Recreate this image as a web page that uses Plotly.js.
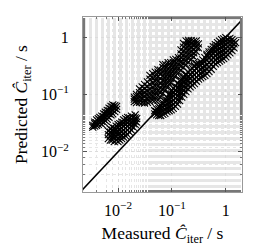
<!DOCTYPE html>
<html><head><meta charset="utf-8">
<script src="https://cdn.plot.ly/plotly-3.0.1.min.js"></script>
<style>html,body{margin:0;padding:0;background:#fff}#c{width:274px;height:247px}</style>
</head><body><div id="c"></div>
<script>
// Each cluster: measured values (columns) and the predicted values read in each column
var clusterA_measured = [0.0034,0.0037,0.0040,0.0043,0.0046,0.0050,0.0054,0.0058,0.0063,0.0068,0.0074,0.0080,0.0087,0.0094];
var clusterA_predicted = [[0.027,0.029],[0.028,0.031,0.033],[0.029,0.032,0.036],[0.030,0.034,0.038],[0.032,0.036,0.040],
 [0.030,0.034,0.038,0.042],[0.033,0.037,0.041,0.046],[0.035,0.040,0.045,0.049],[0.037,0.042,0.048,0.053],[0.040,0.046,0.052,0.058],
 [0.044,0.050,0.056,0.062],[0.046,0.053,0.060,0.066],[0.050,0.057,0.064],[0.055,0.062]];

var clusterB_measured = [0.0066,0.0072,0.0078,0.0085,0.0092,0.0100,0.0108,0.0117,0.0127,0.0138,0.0150,0.0163,0.0177,0.0192,0.0208,0.0222];
var clusterB_predicted = [[0.017,0.020,0.023],[0.016,0.019,0.022,0.025],[0.016,0.018,0.021,0.024,0.027],[0.015,0.018,0.020,0.023,0.026],
 [0.016,0.019,0.022,0.025,0.028],[0.015,0.017,0.020,0.023,0.027,0.030],[0.016,0.018,0.021,0.024,0.028,0.031],[0.017,0.019,0.022,0.026,0.030,0.033],
 [0.018,0.021,0.024,0.028,0.032,0.036],[0.019,0.022,0.026,0.030,0.034,0.038],[0.020,0.024,0.028,0.032,0.036,0.040],[0.022,0.026,0.030,0.034,0.039],
 [0.024,0.028,0.032,0.037,0.042],[0.027,0.031,0.035,0.040],[0.030,0.034,0.039,0.044],[0.033,0.038]];

var upperBand_measured = [0.020,0.022,0.025,0.028,0.031,0.035,0.039,0.044,0.049,0.055,0.061,0.068,0.076,0.085,0.095,0.106,0.118,0.132,0.147,0.164,0.183,0.204,0.228,0.254,0.283,0.310];
var upperBand_predicted = [[0.075,0.083,0.090],[0.072,0.080,0.092,0.100],[0.073,0.082,0.095,0.108,0.125],[0.072,0.085,0.098,0.115,0.135],
 [0.071,0.080,0.094,0.110,0.128,0.150],[0.073,0.085,0.100,0.118,0.140,0.165],[0.075,0.088,0.104,0.124,0.150,0.185,0.215],
 [0.080,0.094,0.112,0.134,0.160,0.195,0.230],[0.080,0.096,0.116,0.140,0.170,0.205,0.245],[0.080,0.096,0.116,0.140,0.170,0.205,0.245,0.270],
 [0.090,0.108,0.130,0.156,0.188,0.225,0.265],[0.104,0.124,0.148,0.176,0.210,0.250,0.295,0.330],[0.120,0.143,0.170,0.203,0.242,0.288,0.330],
 [0.138,0.164,0.195,0.232,0.276,0.325,0.360],[0.160,0.190,0.225,0.266,0.315,0.360],[0.184,0.218,0.258,0.305,0.360,0.400],
 [0.212,0.250,0.295,0.348,0.410],[0.240,0.283,0.333,0.392,0.440],[0.266,0.313,0.368,0.433,0.510,0.600],
 [0.296,0.348,0.410,0.482,0.567,0.667,0.780],[0.330,0.388,0.456,0.536,0.630,0.740,0.860],[0.365,0.430,0.505,0.595,0.700,0.820,0.880],
 [0.407,0.480,0.565,0.665,0.780,0.870],[0.452,0.532,0.625,0.735,0.850],[0.560,0.660,0.770,0.860],[0.650,0.760]];

var lowerBand_measured = [0.048,0.052,0.057,0.062,0.068,0.074,0.081,0.089,0.097,0.106,0.116,0.127,0.139,0.152,0.166,0.182,0.199,0.218,0.238,0.261,
 0.285,0.312,0.341,0.373,0.408,0.446,0.488,0.534,0.584,0.639,0.699,0.764,0.836,0.914,1.000,1.090,1.190,1.300,1.420,1.520];
var lowerBand_predicted = [[0.046,0.052],[0.044,0.050,0.056],[0.043,0.049,0.056,0.062],[0.043,0.050,0.057,0.064],
 [0.045,0.052,0.060,0.071],[0.047,0.055,0.064,0.075,0.082],[0.050,0.058,0.068,0.079,0.090],
 [0.052,0.061,0.071,0.083,0.097,0.102],[0.054,0.063,0.074,0.087,0.102,0.113],[0.057,0.067,0.079,0.093,0.109,0.127],
 [0.062,0.073,0.086,0.101,0.119,0.140],[0.068,0.080,0.094,0.111,0.131,0.158],[0.078,0.092,0.108,0.127,0.150,0.172],
 [0.090,0.106,0.125,0.147,0.173,0.190],[0.100,0.118,0.139,0.164,0.193,0.207],[0.112,0.132,0.155,0.182,0.214,0.226],
 [0.125,0.148,0.175,0.207,0.245],[0.135,0.160,0.190,0.225,0.268],[0.145,0.172,0.204,0.242,0.288],
 [0.155,0.184,0.218,0.258,0.306,0.320],[0.170,0.201,0.238,0.282,0.330,0.345],[0.185,0.218,0.258,0.305,0.345],
 [0.195,0.232,0.275,0.325,0.370],[0.205,0.245,0.292,0.348,0.400],[0.215,0.258,0.310,0.372,0.440],
 [0.230,0.276,0.331,0.397,0.470,0.500],[0.250,0.300,0.360,0.430,0.510,0.550],[0.275,0.330,0.395,0.470,0.550,0.610],
 [0.310,0.370,0.440,0.520,0.610,0.680],[0.340,0.403,0.478,0.567,0.672,0.740],[0.360,0.426,0.505,0.598,0.708,0.800],
 [0.380,0.450,0.533,0.630,0.745,0.850],[0.400,0.474,0.561,0.663,0.783,0.900],[0.420,0.497,0.588,0.695,0.820,0.930],
 [0.450,0.530,0.625,0.735,0.860,0.980],[0.490,0.575,0.675,0.790,0.910],[0.530,0.620,0.725,0.840,0.950],[0.580,0.680,0.790,0.900],
 [0.650,0.760,0.860],[0.800]];

var diag = [0.001, 10];
var tickVals = [0.01, 0.1, 1];
var tickText = ['10<sup>−2</sup>', '10<sup>−1</sup>', '1'];

var measured = [], predicted = [];
[[clusterA_measured, clusterA_predicted], [clusterB_measured, clusterB_predicted],
 [upperBand_measured, upperBand_predicted], [lowerBand_measured, lowerBand_predicted]].forEach(function (c) {
  c[0].forEach(function (m, i) { c[1][i].forEach(function (p) { measured.push(m); predicted.push(p); }); });
});

var fam = 'Liberation Serif, DejaVu Serif, serif';
function ax(range, title, so, tso) {
  return {
    type: 'log', range: range, tickvals: tickVals, ticktext: tickText,
    ticks: 'inside', ticklen: 4, tickcolor: '#555', tickwidth: 1, ticklabelstandoff: tso,
    showline: true, linecolor: '#999', linewidth: 1, mirror: 'ticks',
    showgrid: true, gridcolor: '#dcdcdc', griddash: 'dot', gridwidth: 1,
    minor: {ticks: 'inside', ticklen: 2, tickcolor: '#777', showgrid: true, gridcolor: '#e6e6e6', griddash: 'dot', gridwidth: 1},
    zeroline: false, tickfont: {family: fam, size: 16, color: '#000'},
    title: {text: title, font: {family: fam, size: 17.5, color: '#000'}, standoff: so},
    fixedrange: true
  };
}
var data = [
  {x: measured, y: predicted, type: 'scatter', mode: 'markers',
   marker: {symbol: 'x-thin-open', size: 7, color: '#000', line: {width: 1.1, color: '#000'}}},
  {x: diag, y: diag, type: 'scatter', mode: 'lines', line: {color: '#000', width: 1.5}}
];
var layout = {
  width: 274, height: 247, showlegend: false,
  margin: {l: 83, r: 32, t: 17, b: 55},
  paper_bgcolor: '#fff', plot_bgcolor: '#fff', font: {family: fam, size: 16, color: '#000'},
  xaxis: ax([-2.65, 0.30], 'Measured <i>Ĉ</i><sub>iter</sub> / s', 8, 4),
  yaxis: ax([-2.70, 0.35], 'Predicted <i>Ĉ</i><sub>iter</sub> / s', 8, 10)
};
Plotly.newPlot('c', data, layout, {staticPlot: true, displayModeBar: false});
</script></body></html>
